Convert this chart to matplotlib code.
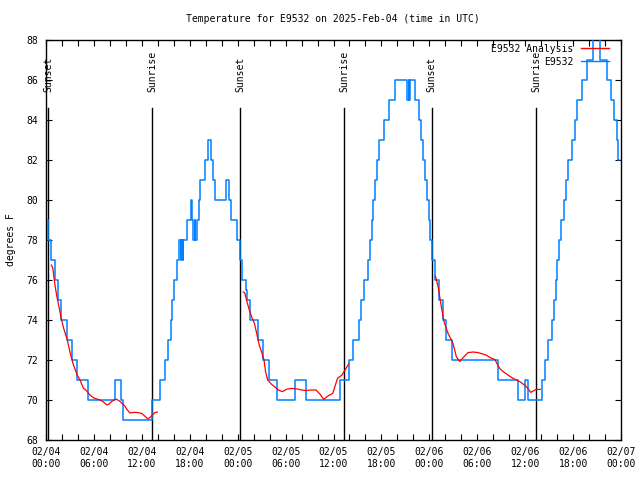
import matplotlib
matplotlib.use("Agg")
import matplotlib.pyplot as plt
from matplotlib.lines import Line2D
from matplotlib.ticker import MultipleLocator, FixedLocator

plt.rcParams['font.family'] = ['DejaVu Sans Mono']
plt.rcParams['font.size'] = 7

title = "Temperature for E9532 on 2025-Feb-04 (time in UTC)"
ylabel = "degrees F"

# hours since 02/04 00:00 UTC
obs_hours = [0.2, 0.3, 0.6, 1.1, 1.5, 1.9, 2.6, 3.2, 3.9, 5.2, 8.6, 9.4, 9.7, 13.25, 14.3,
             14.9, 15.3, 15.6, 15.8, 16.0, 16.4, 16.7, 16.85, 16.95, 17.1, 17.2, 17.6, 18.15,
             18.3, 18.4, 18.6, 18.7, 18.9, 19.1, 19.3, 19.9, 20.3, 20.7, 20.85, 21.2, 22.5,
             22.95, 23.15, 23.9, 24.3, 24.5, 25.0, 25.2, 25.6, 26.6, 27.2, 27.9, 28.9, 31.2,
             32.6, 36.8, 38.0, 38.5, 39.2, 39.5, 39.8, 40.3, 40.55, 40.8, 40.9, 41.2, 41.4,
             41.7, 42.3, 43.0, 43.7, 45.25, 45.45, 45.5, 45.6, 46.2, 46.7, 46.95, 47.15,
             47.45, 47.75, 47.95, 48.1, 48.3, 48.75, 49.2, 49.65, 50.05, 50.9, 56.6, 59.1,
             60.0, 60.3, 62.1, 62.5, 62.9, 63.4, 63.6, 63.8, 64.0, 64.25, 64.5, 64.8, 65.1,
             65.4, 65.9, 66.2, 66.5, 67.1, 67.7, 68.5, 69.4, 70.3, 70.8, 71.1, 71.45, 71.65,
             71.8]
obs_temps = [79, 78, 77, 76, 75, 74, 73, 72, 71, 70, 71, 70, 69, 70, 71,
             72, 73, 74, 75, 76, 77, 78, 77, 78, 77, 78, 79, 80,
             79, 78, 79, 78, 79, 80, 81, 82, 83, 82, 81, 80, 81,
             80, 79, 78, 77, 76, 75.5, 75, 74, 73, 72, 71, 70, 71,
             70, 71, 72, 73, 74, 75, 76, 77, 78, 79, 80, 81, 82,
             83, 84, 85, 86, 85, 86, 85, 86, 85, 84, 83, 82,
             81, 80, 79, 78, 77, 76, 75, 74, 73, 72, 71, 70,
             71, 70, 71, 72, 73, 74, 75, 76, 77, 78, 79, 80, 81,
             82, 83, 84, 85, 86, 87, 89, 87, 86, 85, 84, 83, 82,
             82]

ana1_hours = [0.66, 0.85, 1.1, 1.35, 1.63, 1.9, 2.2, 2.67, 3.0, 3.4, 3.9, 4.26, 4.67, 5.1,
              5.5, 6.0, 6.76, 7.2, 7.6, 7.9, 8.3, 8.77, 9.2, 9.77, 10.1, 10.5, 11.0, 11.35,
              12.0, 12.5, 12.8, 13.2, 13.65, 13.95]
ana1_temps = [76.75, 76.6, 75.8, 75.2, 74.65, 74.1, 73.6, 73.0, 72.4, 71.8, 71.25, 71.0, 70.6,
              70.45, 70.25, 70.1, 70.0, 69.9, 69.75, 69.8, 69.95, 70.05, 69.95, 69.75, 69.55,
              69.35, 69.38, 69.38, 69.33, 69.15, 69.05, 69.2, 69.37, 69.4]
ana2_hours = [24.7, 24.9, 25.1, 25.46, 25.8, 26.1, 26.4, 26.7, 27.0, 27.3, 27.5, 27.76, 28.2,
              28.6, 29.1, 29.6, 30.2, 30.7, 31.5, 32.0, 32.56, 33.2, 33.8, 34.3, 34.77, 35.3,
              35.9, 36.2, 36.5, 37.06, 37.57, 37.9]
ana2_temps = [75.4, 75.35, 75.0, 74.5, 74.1, 73.83, 73.3, 72.75, 72.4, 72.0, 71.4, 71.0, 70.8,
              70.67, 70.5, 70.42, 70.55, 70.58, 70.55, 70.5, 70.47, 70.5, 70.5, 70.3, 70.03,
              70.2, 70.33, 70.7, 71.08, 71.25, 71.58, 71.8]
ana3_hours = [48.75, 49.1, 49.5, 49.84, 50.34, 50.96, 51.38, 51.8, 52.3, 52.84, 53.5, 54.1,
              55.1, 55.7, 56.2, 56.5, 56.8, 57.3, 57.85, 58.4, 58.9, 59.4, 59.9, 60.3, 60.7,
              61.0, 61.4, 61.9]
ana3_temps = [76.2, 75.67, 74.67, 73.92, 73.33, 72.83, 72.17, 71.92, 72.15, 72.37, 72.4, 72.37,
              72.25, 72.1, 72.03, 71.8, 71.58, 71.4, 71.25, 71.1, 71.0, 70.9, 70.75, 70.6,
              70.38, 70.45, 70.53, 70.53]

sun_hours = [0.25, 13.3, 24.33, 37.33, 48.3, 61.36]
sun_labels = ["Sunset", "Sunrise", "Sunset", "Sunrise", "Sunset", "Sunrise"]

xtick_hours = list(range(0, 73, 6))
xtick_labels = ["02/04\n00:00", "02/04\n06:00", "02/04\n12:00", "02/04\n18:00",
                "02/05\n00:00", "02/05\n06:00", "02/05\n12:00", "02/05\n18:00",
                "02/06\n00:00", "02/06\n06:00", "02/06\n12:00", "02/06\n18:00",
                "02/07\n00:00"]

BLUE = "#0080ff"
RED = "#ff0000"

fig = plt.figure(figsize=(6.4, 4.8), dpi=100)
ax = fig.add_axes([46/640, 1 - 440/480, 575/640, 400/480])

ax.plot(obs_hours, obs_temps, color=BLUE, lw=1.1, drawstyle='steps-post', zorder=3)
for h, t in [(ana1_hours, ana1_temps), (ana2_hours, ana2_temps), (ana3_hours, ana3_temps)]:
    ax.plot(h, t, color=RED, lw=0.9, zorder=4)

for h, lab in zip(sun_hours, sun_labels):
    ax.plot([h, h], [68, 84.6], color='black', lw=1.0, zorder=2)
    ax.text(h, 85.4, lab, rotation=90, ha='center', va='bottom', fontsize=7)

ax.set_xlim(0, 72)
ax.set_ylim(68, 88)
ax.xaxis.set_major_locator(FixedLocator(xtick_hours))
ax.set_xticklabels(xtick_labels, linespacing=1.3)
ax.xaxis.set_minor_locator(MultipleLocator(2))
ax.yaxis.set_major_locator(MultipleLocator(2))
ax.tick_params(which='both', direction='in', top=True, right=True, length=4, width=0.8)
ax.tick_params(axis='x', pad=5)
ax.tick_params(axis='y', pad=6)
for s in ax.spines.values():
    s.set_linewidth(1.0)

ax.set_ylabel(ylabel)
ax.yaxis.set_label_coords(-0.053, 0.5)

fig.text(333/640, 1 - 19/480, title, ha='center', va='center', fontsize=7)

handles = [Line2D([], [], color=RED, lw=1.0), Line2D([], [], color=BLUE, lw=1.0)]
ax.legend(handles, ["E9532 Analysis", "E9532"], loc='upper right', frameon=False,
          markerfirst=False, handlelength=2.9, handletextpad=0.8, labelspacing=0.3,
          bbox_to_anchor=(0.99, 1.005), borderaxespad=0.2)

fig.savefig("out.png", dpi=100)
